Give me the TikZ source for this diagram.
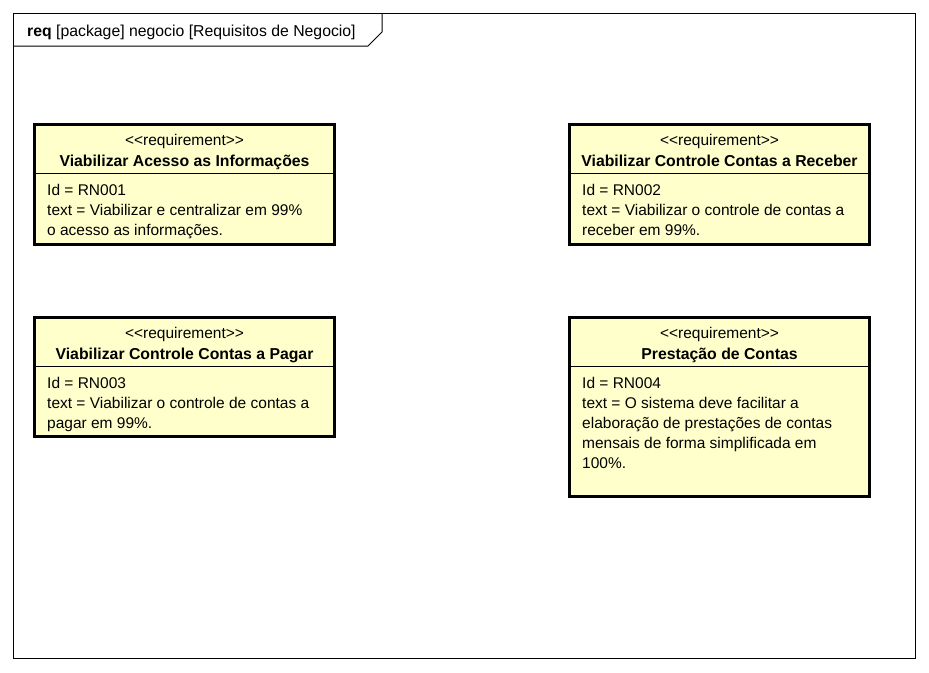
\documentclass[tikz,border=0pt]{standalone}
\usepackage{fontspec}
\setmainfont{Liberation Sans}
\usetikzlibrary{positioning}
\definecolor{reqfill}{HTML}{FFFFCC}
\newcommand{\reqfont}{\fontsize{15.5}{20}\selectfont}
\newcommand{\reqboldfont}{\fontsize{15.8}{20}\selectfont\bfseries}
\newcommand{\stereotype}[1]{<{}<#1>{}>}
\tikzstyle{frame}=[draw, line width=1pt, anchor=north west, inner sep=0, outer sep=0]
\tikzstyle{reqbox}=[draw, line width=3pt, fill=reqfill, anchor=north west, inner sep=0, minimum width=300pt]
\tikzstyle{stereo}=[inner sep=0, anchor=base, font=\reqfont]
\tikzstyle{reqname}=[inner sep=0, anchor=base, font=\reqboldfont]
\tikzstyle{reqattr}=[inner sep=0, anchor=north west, align=left, font=\reqfont, execute at begin node=\strut]
\tikzstyle{reqdiagram}=[x=1pt, y=-1pt,
                        % Separator between the name and the attributes.
                        divider/.style={line width=1pt}]

\begin{document}
\begin{tikzpicture}[reqdiagram]
        \useasboundingbox (0, 0) rectangle (929, 672);
        \node[frame, minimum width=902pt, minimum height=645pt] (F) at (13, 13) {};
        \node[font=\fontsize{15.8}{20}\selectfont, inner sep=0, anchor=base west] (title) at (27, 36) {\textbf{req} [package] negocio [Requisitos de Negocio]};
        \coordinate (T1) at (13, 46);
        \coordinate (T2) at (368, 46);
        \coordinate (T3) at (382, 32);
        \coordinate (T4) at (382, 13);
        \draw[line width=1pt] (T1) -- (T2) -- (T3) -- (T4);
        % Requirements
        \node[reqbox, minimum height=120pt] (R1) at (33, 123) {};
        \node[reqbox, minimum height=120pt] (R2) at (568, 123) {};
        \node[reqbox, minimum height=119pt] (R3) at (33, 316) {};
        \node[reqbox, minimum height=179pt] (R4) at (568, 316) {};
        \node[stereo] (R1s) at ([yshift=-22pt]R1.north) {\stereotype{requirement}};
        \node[stereo] (R2s) at ([yshift=-22pt]R2.north) {\stereotype{requirement}};
        \node[stereo] (R3s) at ([yshift=-22pt]R3.north) {\stereotype{requirement}};
        \node[stereo] (R4s) at ([yshift=-22pt]R4.north) {\stereotype{requirement}};
        \node[reqname] (R1n) at ([yshift=-43pt]R1.north) {Viabilizar Acesso as Informações};
        \node[reqname] (R2n) at ([yshift=-43pt]R2.north) {Viabilizar Controle Contas a Receber};
        \node[reqname] (R3n) at ([yshift=-43pt]R3.north) {Viabilizar Controle Contas a Pagar};
        \node[reqname] (R4n) at ([yshift=-43pt]R4.north) {Prestação de Contas};
        \draw[divider] ([yshift=-50pt]R1.north west) -- ([yshift=-50pt]R1.north east);
        \draw[divider] ([yshift=-50pt]R2.north west) -- ([yshift=-50pt]R2.north east);
        \draw[divider] ([yshift=-50pt]R3.north west) -- ([yshift=-50pt]R3.north east);
        \draw[divider] ([yshift=-50pt]R4.north west) -- ([yshift=-50pt]R4.north east);
        \node[reqattr] (R1a) at ([xshift=14pt, yshift=-61pt]R1.north west) {Id = RN001\\text = Viabilizar e centralizar em 99\%\\o acesso as informações.};
        \node[reqattr] (R2a) at ([xshift=14pt, yshift=-61pt]R2.north west) {Id = RN002\\text = Viabilizar o controle de contas a\\receber em 99\%.};
        \node[reqattr] (R3a) at ([xshift=14pt, yshift=-61pt]R3.north west) {Id = RN003\\text = Viabilizar o controle de contas a\\pagar em 99\%.};
        \node[reqattr] (R4a) at ([xshift=14pt, yshift=-61pt]R4.north west) {Id = RN004\\text = O sistema deve facilitar a\\elaboração de prestações de contas\\mensais de forma simplificada em\\100\%.};
    \end{tikzpicture}
\end{document}
